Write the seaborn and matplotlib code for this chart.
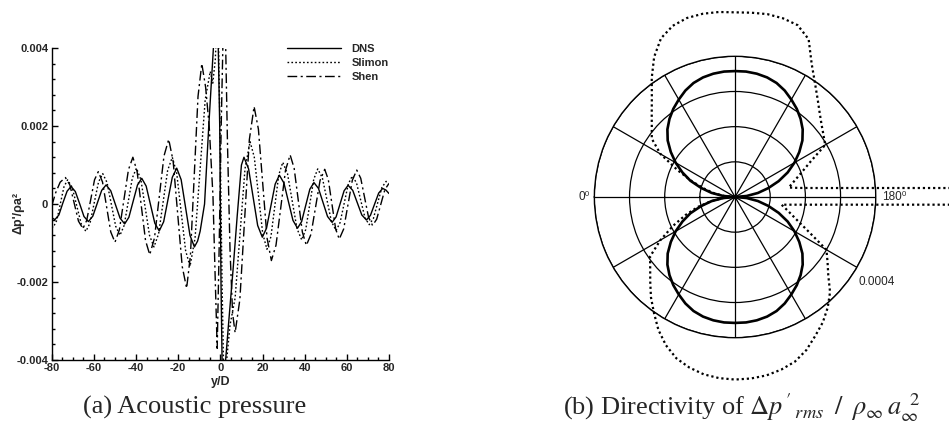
import numpy as np
import pandas as pd
import matplotlib
matplotlib.use("Agg")
import matplotlib.pyplot as plt
import seaborn as sns

# ---------------- data (a): acoustic pressure, y in units of 1e-4 ----------------
SCALE = 1e-4
dns_x = [-80, -78.5, -76.6, -74.7, -72.7, -70.8, -68.8, -66.7, -64.7, -62.6, -60.5, -58.4, -56.3, -54.2,
         -52.0, -49.8, -47.6, -45.4, -43.4, -41.35, -39.3, -37.3, -35.2, -33.15, -31.1, -29.0, -26.9,
         -24.85, -22.8, -20.7, -18.6, -16.5, -14.4, -12.3, -10.8, -9.6, -7.5, -5.5, -3.3, -1.5, -0.3,
         0.3, 1.2, 2.5, 4.0, 6.0, 8.0, 10.0, 11.2, 13.4, 15.55, 17.7, 19.9, 21.9, 23.95, 26.0, 28.0,
         30.15, 32.3, 34.45, 36.6, 38.55, 40.5, 42.45, 44.4, 46.55, 48.7, 50.85, 53.0, 54.9, 56.8,
         58.7, 60.6, 62.8, 64.95, 67.1, 69.3, 71.2, 73.15, 75.1, 77.0, 78.5, 80]
dns_y = [-3.5, -4.0, -2.8, 0.3, 3.3, 4.5, 3.2, 0.0, -3.2, -4.5, -3.1, 0.2, 3.5, 4.9, 3.4, -0.1, -3.6,
         -5.1, -3.4, 0.75, 4.9, 6.6, 4.6, -0.15, -4.9, -6.9, -4.55, 1.15, 6.85, 9.2, 6.25, -0.9, -8.05,
         -11.0, -9.5, -7.0, 0.0, 20, 40, 55, 20, -20, -55, -40, -30, -17, -3, 10, 12, 9.0, 1.75, -5.5,
         -8.5, -6.2, -0.55, 5.1, 7.4, 5.4, 0.6, -4.2, -6.2, -4.5, -0.35, 3.8, 5.5, 4.0, 0.4, -3.2, -4.7,
         -3.3, 0.05, 3.4, 4.8, 3.5, 0.35, -2.8, -4.1, -2.9, -0.05, 2.8, 4.0, 3.6, 2.7]

slimon_x = [-80, -79.3, -77.6, -75.9, -74.2, -72.5, -70.3, -68.15, -66.0, -63.8, -61.8, -59.8, -57.8,
            -55.8, -53.75, -51.7, -49.65, -47.6, -45.65, -43.7, -41.75, -39.8, -37.7, -35.65, -33.6,
            -31.5, -29.3, -27.15, -25.0, -22.8, -20.7, -18.6, -16.5, -14.4, -12.0, -9.6, -7.2, -4.8,
            -3.6, -2.4, -1.2, -0.2, 0.8, 1.8, 3.0, 4.6, 7.0, 9.35, 11.7, 14.1, 16.1, 18.1, 20.1, 22.1,
            24.0, 25.85, 27.7, 29.6, 31.85, 34.1, 36.35, 38.6, 40.5, 42.4, 44.3, 46.2, 48.4, 50.55,
            52.7, 54.9, 56.8, 58.75, 60.7, 62.6, 64.6, 66.6, 68.6, 70.6, 72.6, 74.6, 76.6, 78.6, 80]
slimon_y = [-5.8, -6.0, -4.2, 0.1, 4.4, 6.2, 4.3, -0.4, -5.1, -7.0, -4.85, 0.4, 5.65, 7.8, 5.5, -0.1,
            -5.7, -8.0, -5.5, 0.6, 6.7, 9.2, 6.25, -0.9, -8.05, -11.0, -7.65, 0.5, 8.65, 12.0, 7.9,
            -2.0, -11.9, -16.0, -8.7, 9.0, 26.7, 34, 31, 37, 52, 20, -20, -50, -40, -31, -24.1, -7.5,
            9.1, 16.0, 12.0, 2.2, -7.6, -11.6, -8.35, -0.45, 7.45, 10.7, 7.8, 0.75, -6.3, -9.2, -6.55,
            -0.1, 6.35, 9.0, 6.7, 1.1, -4.5, -6.8, -4.75, 0.2, 5.15, 7.2, 5.4, 0.95, -3.5, -5.3, -3.7,
            0.25, 4.2, 5.8, 5.6]

shen_x = [-80, -78.2, -76.0, -73.5, -71.4, -69.35, -67.3, -65.2, -63.4, -61.55, -59.7, -57.9, -55.9,
          -53.95, -52.0, -50.0, -47.9, -45.75, -43.6, -41.5, -39.5, -37.5, -35.5, -33.5, -31.25, -29.0,
          -26.75, -24.5, -22.4, -20.25, -18.1, -16.0, -14.2, -12.4, -10.6, -8.8, -7.0, -5.3, -3.5,
          -2.5, -1.5, -0.6, 0.4, 1.4, 2.4, 3.4, 4.6, 5.8, 7.0, 9.25, 11.5, 13.75, 16.0, 18.05, 20.1,
          22.15, 24.2, 26.4, 28.65, 30.9, 33.1, 35.0, 36.95, 38.9, 40.8, 43.0, 45.15, 47.3, 49.5,
          51.2, 52.95, 54.7, 56.4, 58.5, 60.55, 62.6, 64.7, 66.6, 68.45, 70.3, 72.2, 74.15, 76.1,
          78.05, 80]
shen_y = [-0.5, 2.8, 5.6, 6.8, 4.9, 0.25, -4.4, -6.3, -4.2, 1.0, 6.2, 8.3, 5.65, -0.75, -7.15, -9.8,
          -6.6, 1.1, 8.8, 12.0, 8.35, -0.5, -9.35, -13.0, -8.7, 1.8, 12.3, 16.6, 11.0, -2.5, -16.0,
          -21.6, -13.2, 7.2, 27.6, 36, 30, 20, 2, -18, -37, -12, 20, 46, 44, 15, -12, -28, -33, -24.5,
          -4, 16.5, 25, 19.2, 5.25, -8.7, -14.5, -10.55, -0.95, 8.65, 12.6, 9.2, 1.0, -7.2, -10.6,
          -7.75, -0.85, 6.05, 8.9, 6.3, -0.05, -6.4, -9.0, -6.4, -0.15, 6.1, 8.7, 6.6, 1.6, -3.4,
          -5.5, -3.9, -0.1, 3.7, 5.3]

x_ticks = [-80, -60, -40, -20, 0, 20, 40, 60, 80]
x_ticklabels = ["-80", "-60", "-40", "-20", "0", "20", "40", "60", "80"]
y_ticks = [-0.004, -0.002, 0.0, 0.002, 0.004]
y_ticklabels = ["-0.004", "-0.002", "0", "0.002", "0.004"]
series_names = ["DNS", "Slimon", "Shen"]

# ---------------- data (b): directivity, r in units of 1e-4 ----------------
dns_theta = list(range(0, 361, 5))
dns_r = [0, 0.34, 0.68, 1.0, 1.35, 1.65, 1.95, 2.23, 2.5, 2.72, 2.9, 3.06, 3.2, 3.34, 3.45, 3.52,
         3.56, 3.58, 3.58, 3.58, 3.56, 3.52, 3.45, 3.34, 3.2, 3.06, 2.9, 2.72, 2.5, 2.23, 1.95, 1.65,
         1.32, 0.98, 0.66, 0.33, 0,
         0.33, 0.66, 0.98, 1.32, 1.65, 1.95, 2.23, 2.5, 2.72, 2.9, 3.06, 3.2, 3.34, 3.45, 3.52, 3.56,
         3.58, 3.58, 3.58, 3.56, 3.52, 3.45, 3.34, 3.2, 3.06, 2.9, 2.72, 2.5, 2.23, 1.95, 1.65, 1.35,
         1.0, 0.68, 0.34, 0]
slimon_theta = [0, 5, 10, 15, 20, 25, 30, 35, 40, 45, 50, 55, 60, 65, 70, 75, 80, 85, 90, 95, 100,
                105, 110, 115, 120, 125, 130, 135, 140, 145, 150, 155, 160, 165, 170, 172, 174, 176,
                178, 180, 182, 184, 186, 189.4, 195, 200, 205, 210, 215, 220, 225, 230, 235, 240,
                245, 250, 255, 260, 265, 270, 275, 280, 285, 290, 295, 300, 305, 310, 315, 320, 325,
                330, 335, 340, 345, 350, 355, 360]
slimon_r = [0, 0.3, 0.6, 0.9, 1.3, 1.8, 2.45, 2.89, 3.09, 3.35, 3.68, 4.13, 4.6, 4.98, 5.18, 5.27,
            5.29, 5.28, 5.25, 5.26, 5.28, 5.26, 5.2, 4.95, 4.36, 3.96, 3.65, 3.4, 3.21, 3.07, 2.96,
            2.36, 2.0, 1.74, 1.55, 1.85, 2.44, 3.67, 7.3, 12, 6.26, 3.13, 2.09, 1.34, 1.57, 1.85,
            2.29, 3.0, 3.21, 3.46, 3.82, 4.1, 4.35, 4.56, 4.8, 4.98, 5.08, 5.15, 5.18, 5.19, 5.17,
            5.12, 5.02, 4.88, 4.65, 4.36, 4.02, 3.72, 3.41, 3.15, 2.95, 2.45, 1.95, 1.5, 1.1, 0.7,
            0.35, 0]
r_rings = [1, 2, 3, 4]
spoke_step = 30

# ---------------- style ----------------
sns.set_theme(style="white")
plt.rcParams["font.family"] = ["Liberation Sans", "DejaVu Sans"]
plt.rcParams["mathtext.fontset"] = "stix"

fig = plt.figure(figsize=(9.49, 4.45), dpi=100)
fig.patch.set_facecolor("white")

# ---------------- panel (a) ----------------
ax = fig.add_axes([0.0545, 0.191, 0.3554, 0.701])
df_a = pd.concat([
    pd.DataFrame({"x": dns_x, "y": np.array(dns_y) * SCALE, "series": "DNS"}),
    pd.DataFrame({"x": slimon_x, "y": np.array(slimon_y) * SCALE, "series": "Slimon"}),
    pd.DataFrame({"x": shen_x, "y": np.array(shen_y) * SCALE, "series": "Shen"}),
])
styles = {"DNS": "-", "Slimon": (0, (1.2, 1.6)), "Shen": (0, (7, 2.5, 1.5, 2.5))}
for name in series_names:
    sub = df_a[df_a["series"] == name]
    sns.lineplot(data=sub, x="x", y="y", ax=ax, color="black", lw=1.0,
                 linestyle=styles[name], label=name, sort=False, estimator=None)

ax.set_xlim(-80, 80)
ax.set_ylim(-0.004, 0.004)
ax.set_xticks(x_ticks)
ax.set_xticklabels(x_ticklabels)
ax.set_yticks(y_ticks)
ax.set_yticklabels(y_ticklabels)
ax.xaxis.set_minor_locator(matplotlib.ticker.MultipleLocator(5))
ax.yaxis.set_minor_locator(matplotlib.ticker.MultipleLocator(0.0004))
ax.tick_params(which="both", direction="in", bottom=True, left=True, top=False, right=False,
               color="black", width=1.0)
ax.tick_params(which="major", length=4.5, labelsize=8, pad=2.5)
ax.tick_params(which="minor", length=2.3)
for lbl in ax.get_xticklabels() + ax.get_yticklabels():
    lbl.set_fontweight("bold")
for s in ["top", "right"]:
    ax.spines[s].set_visible(False)
for s in ["left", "bottom"]:
    ax.spines[s].set_color("black")
    ax.spines[s].set_linewidth(1.0)
ax.set_xlabel("y/D", fontsize=9, fontweight="bold", labelpad=1.5)
ax.set_ylabel("Δp'/ρa²", fontsize=9, fontweight="bold")
ax.yaxis.set_label_coords(-0.08, 0.47)
ax.legend(loc="upper right", bbox_to_anchor=(1.0, 1.012), frameon=False,
          prop={"weight": "bold", "size": 8}, handlelength=4.8, handletextpad=1.0,
          labelspacing=0.35, borderpad=0, borderaxespad=0)

# ---------------- panel (b) ----------------
pax = fig.add_axes([0.6263, 0.2411, 0.2965, 0.6324], projection="polar")
pax.set_theta_zero_location("W")
pax.set_theta_direction(-1)
sns.lineplot(x=np.deg2rad(dns_theta), y=np.array(dns_r) * SCALE, ax=pax, color="black", lw=1.9,
             sort=False, estimator=None)
sns.lineplot(x=np.deg2rad(slimon_theta), y=np.array(slimon_r) * SCALE, ax=pax, color="black",
             lw=1.6, linestyle=(0, (1.0, 1.3)), sort=False, estimator=None, clip_on=False)
pax.set_ylim(0, 4e-4)
pax.set_xticks(np.deg2rad(np.arange(0, 360, spoke_step)))
pax.set_xticklabels([])
pax.set_yticks(np.array(r_rings) * SCALE)
pax.set_yticklabels([])
pax.set_xlabel("")
pax.set_ylabel("")
pax.grid(True, color="black", lw=0.9, ls="-")
pax.spines["polar"].set_color("black")
pax.spines["polar"].set_linewidth(1.0)
pax.set_facecolor("none")
pax.text(np.deg2rad(0), 4.12e-4, "0⁰", ha="right", va="center", fontsize=8.5)
pax.text(np.deg2rad(180), 4.18e-4, "180⁰", ha="left", va="center", fontsize=8.5)
pax.text(np.deg2rad(214.6), 4.25e-4, "0.0004", ha="left", va="center", fontsize=8.5)

# ---------------- captions ----------------
fig.text(0.205, 0.085, "(a) Acoustic pressure", ha="center", va="center",
         family="Liberation Serif", fontsize=19)
fig.text(0.593, 0.085,
         r"(b) Directivity of $\Delta p\,\mathrm{'}_{\,rms}\;\;/\;\;\rho_{\infty}\,a_{\infty}^{\;\;2}$",
         ha="left", va="center", family="Liberation Serif", fontsize=19)

fig.savefig("out.png", dpi=100, facecolor="white")
